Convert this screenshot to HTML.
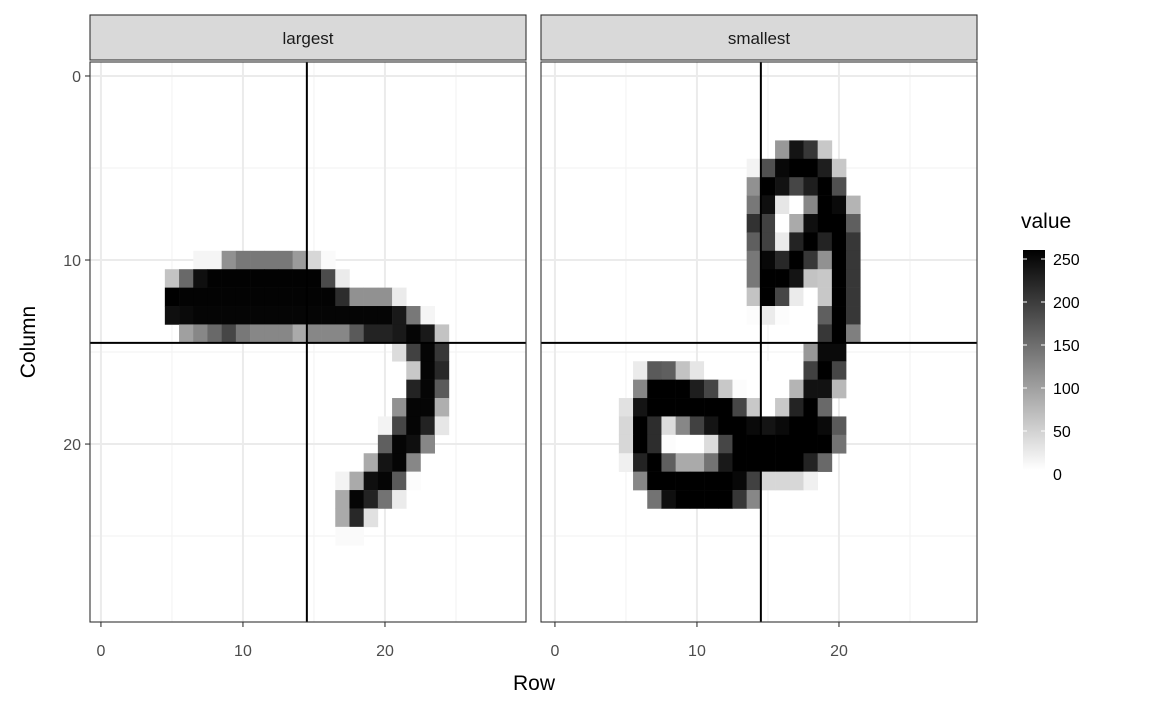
<!DOCTYPE html>
<html><head><meta charset="utf-8">
<style>
body{margin:0;background:#fff;}
svg{display:block;font-family:"Liberation Sans",sans-serif;}
</style></head>
<body>
<svg id="chart" width="1152" height="711" viewBox="0 0 1152 711"></svg>
<script>
// Data: [row, startCol, values...]
const panelNames = ["largest", "smallest"];
const largestRows = [
  [10,7,[10,10,110,135,135,135,135,100,40,5]],
  [11,5,[60,150,240,253,253,253,253,253,253,253,253,180,20]],
  [12,5,[255,252,252,252,252,252,252,252,252,252,252,252,210,110,110,110,20]],
  [13,5,[240,245,250,250,250,250,250,250,250,250,250,250,250,250,250,250,230,135,10]],
  [14,6,[95,120,150,185,135,120,120,120,85,120,120,120,165,220,220,230,250,230,60]],
  [15,21,[35,190,250,200]],
  [16,22,[55,250,215]],
  [17,22,[220,250,165]],
  [18,21,[110,250,250,80]],
  [19,20,[12,185,250,220,25]],
  [20,20,[160,250,240,120]],
  [21,19,[85,235,250,120]],
  [22,17,[12,85,240,250,165,3]],
  [23,17,[85,250,220,140,20]],
  [24,17,[85,215,30]],
  [25,17,[5,5]]
];
const smallestRows = [
  [4,16,[103,235,200,55]],
  [5,14,[12,175,247,255,255,225,55]],
  [6,14,[110,255,237,185,225,255,175]],
  [7,14,[135,240,25,0,120,255,245,75]],
  [8,14,[205,190,0,85,240,255,255,160]],
  [9,14,[160,190,20,220,255,220,255,200]],
  [10,14,[135,247,215,255,200,110,255,200]],
  [11,14,[135,255,255,235,60,55,255,200]],
  [12,14,[60,255,185,20,0,55,255,200]],
  [13,14,[3,20,3,0,0,160,255,200]],
  [14,19,[200,255,128]],
  [15,18,[103,245,245]],
  [16,6,[20,165,160,60,25,0,0,0,0,0,0,0,190,255,185]],
  [17,6,[120,255,255,255,225,185,55,3,0,0,0,75,237,237,70]],
  [18,5,[30,235,255,255,255,255,255,255,185,55,0,55,220,255,150]],
  [19,5,[40,255,210,35,120,190,235,255,255,245,235,245,255,255,245,165]],
  [20,5,[40,255,210,3,0,0,35,185,255,255,255,255,255,255,255,140]],
  [21,5,[15,220,255,160,85,85,140,230,255,255,255,255,255,220,150]],
  [22,6,[120,255,255,255,255,255,255,247,190,40,40,40,15]],
  [23,7,[140,240,255,255,255,255,200,120]]
];
const xTicks = [0,10,20];
const yTicks = [0,10,20];
const legendTicks = [0,50,100,150,200,250];
const cutLine = 14.5;

const NS="http://www.w3.org/2000/svg";
const svg=document.getElementById('chart');
function mk(tag,attrs,parent){const e=document.createElementNS(NS,tag);for(const k in attrs)e.setAttribute(k,attrs[k]);(parent||svg).appendChild(e);return e;}

const panelLefts=[90,541], panelW=436, panelTop=62, panelH=560;
const panelShift=[0,3];
const xMin=-0.77,xMax=29.93,yMin=-0.76,yMax=29.67;
function fillFor(v){const g=Math.round(255-v);return `rgb(${g},${g},${g})`;}

[largestRows, smallestRows].forEach((rows,pi)=>{
  const L=panelLefts[pi];
  const sx=c=>L+panelShift[pi]+(c-xMin)/(xMax-xMin)*panelW;
  const sy=r=>panelTop+(r-yMin)/(yMax-yMin)*panelH;
  const g=mk('g',{});
  
  
  mk('rect',{x:L,y:panelTop,width:panelW,height:panelH,fill:'#fff'},g);
  [5,15,25].forEach(t=>{
    mk('line',{x1:sx(t),x2:sx(t),y1:panelTop,y2:panelTop+panelH,stroke:'#f2f2f2','stroke-width':1},g);
    mk('line',{x1:L,x2:L+panelW,y1:sy(t),y2:sy(t),stroke:'#f2f2f2','stroke-width':1},g);
  });
  xTicks.forEach(t=>mk('line',{x1:sx(t),x2:sx(t),y1:panelTop,y2:panelTop+panelH,stroke:'#ebebeb','stroke-width':2},g));
  yTicks.forEach(t=>mk('line',{x1:L,x2:L+panelW,y1:sy(t),y2:sy(t),stroke:'#ebebeb','stroke-width':2},g));
  rows.forEach(([r,c0,vals])=>{
    vals.forEach((v,i)=>{
      const c=c0+i;
      const t=mk('rect',{x:sx(c-0.5),y:sy(r-0.5),width:sx(c+0.5)-sx(c-0.5)+0.3,height:sy(r+0.5)-sy(r-0.5)+0.3,fill:fillFor(v)},g);
      
      
    });
  });
  const vl=mk('line',{x1:sx(cutLine),x2:sx(cutLine),y1:panelTop,y2:panelTop+panelH,stroke:'#000','stroke-width':2},g);
  
  
  const hl=mk('line',{x1:L,x2:L+panelW,y1:sy(cutLine),y2:sy(cutLine),stroke:'#000','stroke-width':2},g);
  
  
  mk('rect',{x:L,y:panelTop,width:panelW,height:panelH,fill:'none',stroke:'#333','stroke-width':1.1},g);
  const st=mk('rect',{x:L,y:15,width:panelW,height:45,fill:'#d9d9d9',stroke:'#333','stroke-width':1.1},g);
  
  
  const stt=mk('text',{x:L+panelW/2,y:44,'text-anchor':'middle','font-size':17,fill:'#1a1a1a'},g);
  stt.textContent=panelNames[pi];
  
  
  xTicks.forEach(t=>{
    mk('line',{x1:sx(t),x2:sx(t),y1:panelTop+panelH,y2:panelTop+panelH+5,stroke:'#333','stroke-width':1.1},g);
    const tx=mk('text',{x:sx(t),y:656,'text-anchor':'middle','font-size':16,fill:'#4d4d4d'},g);
    tx.textContent=t;
    
    
  });
  if(pi===0){
    yTicks.forEach(t=>{
      mk('line',{x1:L-5,x2:L,y1:sy(t),y2:sy(t),stroke:'#333','stroke-width':1.1},g);
      const ty=mk('text',{x:81,y:sy(t)+6,'text-anchor':'end','font-size':16,fill:'#4d4d4d'},g);
      ty.textContent=t;
      
      
    });
  }
});

const xt=mk('text',{x:534,y:690,'text-anchor':'middle','font-size':21,fill:'#000'});
xt.textContent='Row';


const yt=mk('text',{x:0,y:0,'text-anchor':'middle','font-size':21,fill:'#000',transform:'translate(35,342) rotate(-90)'});
yt.textContent='Column';



const lg=mk('g',{});


const lt=mk('text',{x:1021,y:228,'font-size':21,fill:'#000'},lg);
lt.textContent='value';


const defs=mk('defs',{});
const grad=mk('linearGradient',{id:'lgGrad',x1:0,y1:1,x2:0,y2:0},defs);
mk('stop',{offset:'0%','stop-color':'#ffffff'},grad);
mk('stop',{offset:'100%','stop-color':'#000000'},grad);
const barTop=250, barBot=470;
const ly=v=>474-v*0.86;
const bar=mk('rect',{x:1023,y:barTop,width:22,height:barBot-barTop,fill:'url(#lgGrad)'},lg);


legendTicks.forEach(t=>{
  const y=ly(t);
  if(y>=barTop&&y<=barBot){
    mk('line',{x1:1023,x2:1027,y1:y,y2:y,stroke:'#fff','stroke-width':1},lg);
    mk('line',{x1:1041,x2:1045,y1:y,y2:y,stroke:'#fff','stroke-width':1},lg);
  }
  const tl=mk('text',{x:1053,y:y+6,'font-size':16,fill:'#000'},lg);
  tl.textContent=t;
  
  
});
</script>
</body></html>
